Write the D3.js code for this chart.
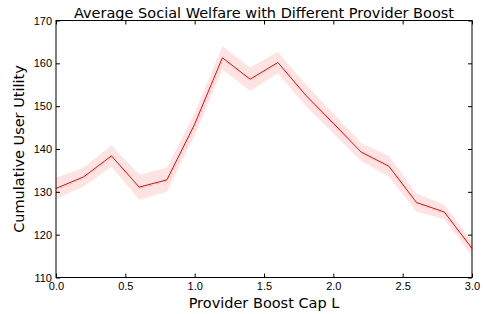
<!DOCTYPE html>
<html>
<head>
<meta charset="utf-8">
<script src="https://cdn.jsdelivr.net/npm/d3@7"></script>
<style>
  body { margin: 0; background: #fff; }
  svg { display: block; font-family: "DejaVu Sans", sans-serif; }
</style>
</head>
<body>
<div id="chart"></div>
<script>
// data
var boostCap = [0.0, 0.2, 0.4, 0.6, 0.8, 1.0, 1.2, 1.4, 1.6, 1.8, 2.0, 2.2, 2.4, 2.6, 2.8, 3.0];
var utility  = [130.8, 133.5, 138.4, 131.1, 132.8, 145.8, 161.3, 156.3, 160.2, 152.6, 146.0, 139.3, 136.0, 127.5, 125.3, 116.8];
var spread   = [2.5, 2.2, 2.5, 2.9, 2.8, 2.6, 2.7, 2.7, 2.5, 2.5, 2.3, 2.1, 2.4, 2.1, 1.7, 1.7];
var xTicks = [0.0, 0.5, 1.0, 1.5, 2.0, 2.5, 3.0];
var yTicks = [110, 120, 130, 140, 150, 160, 170];

var margin = {top: 20.5, right: 11, bottom: 36.5, left: 56},
    width = 483 - margin.left - margin.right,
    height = 314 - margin.top - margin.bottom;

var svg = d3.select("#chart")
  .append("svg")
  .attr("width", 483)
  .attr("height", 314);

var g = svg.append("g")
  .attr("transform", "translate(" + margin.left + "," + margin.top + ")");

var x = d3.scaleLinear().domain([0, 3]).range([0, width]);
var y = d3.scaleLinear().domain([110, 170]).range([height, 0]);

var data = boostCap.map(function(d, i) {
  return {x: d, y: utility[i], e: spread[i]};
});

// shaded band
g.append("path")
  .datum(data)
  .attr("fill", "#ff0000")
  .attr("fill-opacity", 0.11)
  .attr("d", d3.area()
    .x(function(d) { return x(d.x); })
    .y0(function(d) { return y(d.y - d.e); })
    .y1(function(d) { return y(d.y + d.e); }));

// mean line
g.append("path")
  .datum(data)
  .attr("fill", "none")
  .attr("stroke", "#ff0000")
  .attr("stroke-width", 1)
  .attr("d", d3.line()
    .x(function(d) { return x(d.x); })
    .y(function(d) { return y(d.y); }));

// axes, ticks pointing inwards like matplotlib classic
var fmtX = d3.format(".1f");
function styleAxis(sel) {
  sel.select(".domain").remove();
  sel.selectAll("line").attr("stroke", "#000");
  sel.selectAll("text").attr("fill", "#000").style("font-size", "11px");
}

g.append("g")
  .attr("transform", "translate(0," + height + ")")
  .call(d3.axisBottom(x).tickValues(xTicks).tickFormat(fmtX).tickSizeInner(-4).tickPadding(4.5))
  .call(styleAxis);
g.append("g")
  .call(d3.axisTop(x).tickValues(xTicks).tickFormat("").tickSizeInner(-4))
  .call(styleAxis);
g.append("g")
  .call(d3.axisLeft(y).tickValues(yTicks).tickSizeInner(-4).tickPadding(4))
  .call(styleAxis);
g.append("g")
  .attr("transform", "translate(" + width + ",0)")
  .call(d3.axisRight(y).tickValues(yTicks).tickFormat("").tickSizeInner(-4))
  .call(styleAxis);

// frame
g.append("rect")
  .attr("width", width)
  .attr("height", height)
  .attr("fill", "none")
  .attr("stroke", "#000")
  .attr("stroke-width", 1);

// title
svg.append("text")
  .attr("x", margin.left + width / 2)
  .attr("y", 17.5)
  .attr("text-anchor", "middle")
  .style("font-size", "14.5px")
  .text("Average Social Welfare with Different Provider Boost");

// x label
svg.append("text")
  .attr("x", margin.left + width / 2)
  .attr("y", 308)
  .attr("text-anchor", "middle")
  .style("font-size", "14.5px")
  .text("Provider Boost Cap L");

// y label
svg.append("text")
  .attr("transform", "translate(24," + (margin.top + height / 2) + ") rotate(-90)")
  .attr("text-anchor", "middle")
  .style("font-size", "14.5px")
  .text("Cumulative User Utility");
</script>
</body>
</html>
